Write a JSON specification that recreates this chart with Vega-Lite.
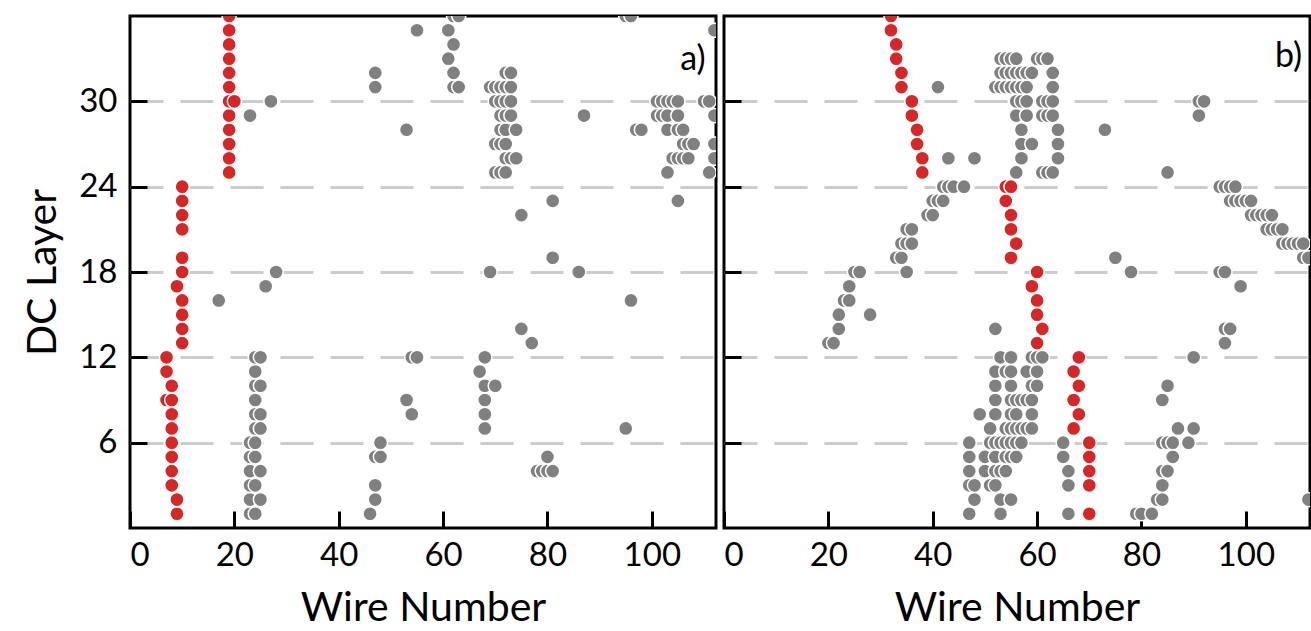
{
  "$schema": "https://vega.github.io/schema/vega-lite/v6.json",
  "background": "white",
  "padding": {"left": 21, "top": 14, "right": 0, "bottom": 0},
  "spacing": 3,
  "config": {
    "font": "Lato",
    "view": {"stroke": "black", "strokeWidth": 3},
    "axis": {
      "domain": false,
      "tickColor": "black",
      "tickWidth": 3,
      "tickSize": -17,
      "labelFont": "Lato",
      "labelFontSize": 33,
      "labelColor": "black",
      "titleFont": "Lato",
      "titleFontSize": 41,
      "titleFontWeight": "normal",
      "titleColor": "black",
      "gridColor": "#cccccc",
      "gridWidth": 3,
      "gridDash": [33, 17]
    }
  },
  "datasets": {
    "hits": [
      {"p":"a","l":1,"w":23,"t":"other"},{"p":"a","l":1,"w":24,"t":"other"},{"p":"a","l":1,"w":46,"t":"other"},
      {"p":"a","l":2,"w":23,"t":"other"},{"p":"a","l":2,"w":25,"t":"other"},{"p":"a","l":2,"w":47,"t":"other"},
      {"p":"a","l":3,"w":23,"t":"other"},{"p":"a","l":3,"w":24,"t":"other"},{"p":"a","l":3,"w":47,"t":"other"},
      {"p":"a","l":4,"w":23,"t":"other"},{"p":"a","l":4,"w":25,"t":"other"},{"p":"a","l":4,"w":78,"t":"other"},{"p":"a","l":4,"w":79,"t":"other"},{"p":"a","l":4,"w":80,"t":"other"},{"p":"a","l":4,"w":81,"t":"other"},
      {"p":"a","l":5,"w":23,"t":"other"},{"p":"a","l":5,"w":24,"t":"other"},{"p":"a","l":5,"w":47,"t":"other"},{"p":"a","l":5,"w":48,"t":"other"},{"p":"a","l":5,"w":80,"t":"other"},
      {"p":"a","l":6,"w":23,"t":"other"},{"p":"a","l":6,"w":24,"t":"other"},{"p":"a","l":6,"w":48,"t":"other"},
      {"p":"a","l":7,"w":24,"t":"other"},{"p":"a","l":7,"w":25,"t":"other"},{"p":"a","l":7,"w":68,"t":"other"},{"p":"a","l":7,"w":95,"t":"other"},
      {"p":"a","l":8,"w":24,"t":"other"},{"p":"a","l":8,"w":25,"t":"other"},{"p":"a","l":8,"w":54,"t":"other"},{"p":"a","l":8,"w":68,"t":"other"},
      {"p":"a","l":9,"w":24,"t":"other"},{"p":"a","l":9,"w":53,"t":"other"},{"p":"a","l":9,"w":68,"t":"other"},
      {"p":"a","l":10,"w":24,"t":"other"},{"p":"a","l":10,"w":25,"t":"other"},{"p":"a","l":10,"w":68,"t":"other"},{"p":"a","l":10,"w":70,"t":"other"},
      {"p":"a","l":11,"w":24,"t":"other"},{"p":"a","l":11,"w":67,"t":"other"},
      {"p":"a","l":12,"w":24,"t":"other"},{"p":"a","l":12,"w":25,"t":"other"},{"p":"a","l":12,"w":54,"t":"other"},{"p":"a","l":12,"w":55,"t":"other"},{"p":"a","l":12,"w":68,"t":"other"},
      {"p":"a","l":13,"w":77,"t":"other"},
      {"p":"a","l":14,"w":75,"t":"other"},
      {"p":"a","l":16,"w":17,"t":"other"},{"p":"a","l":16,"w":96,"t":"other"},
      {"p":"a","l":17,"w":26,"t":"other"},
      {"p":"a","l":18,"w":28,"t":"other"},{"p":"a","l":18,"w":69,"t":"other"},{"p":"a","l":18,"w":86,"t":"other"},
      {"p":"a","l":19,"w":81,"t":"other"},
      {"p":"a","l":22,"w":75,"t":"other"},
      {"p":"a","l":23,"w":81,"t":"other"},{"p":"a","l":23,"w":105,"t":"other"},
      {"p":"a","l":25,"w":70,"t":"other"},{"p":"a","l":25,"w":71,"t":"other"},{"p":"a","l":25,"w":72,"t":"other"},{"p":"a","l":25,"w":103,"t":"other"},{"p":"a","l":25,"w":111,"t":"other"},
      {"p":"a","l":26,"w":72,"t":"other"},{"p":"a","l":26,"w":73,"t":"other"},{"p":"a","l":26,"w":74,"t":"other"},{"p":"a","l":26,"w":104,"t":"other"},{"p":"a","l":26,"w":105,"t":"other"},{"p":"a","l":26,"w":106,"t":"other"},{"p":"a","l":26,"w":107,"t":"other"},{"p":"a","l":26,"w":112,"t":"other"},
      {"p":"a","l":27,"w":70,"t":"other"},{"p":"a","l":27,"w":71,"t":"other"},{"p":"a","l":27,"w":72,"t":"other"},{"p":"a","l":27,"w":106,"t":"other"},{"p":"a","l":27,"w":107,"t":"other"},{"p":"a","l":27,"w":108,"t":"other"},{"p":"a","l":27,"w":112,"t":"other"},
      {"p":"a","l":28,"w":53,"t":"other"},{"p":"a","l":28,"w":71,"t":"other"},{"p":"a","l":28,"w":72,"t":"other"},{"p":"a","l":28,"w":74,"t":"other"},{"p":"a","l":28,"w":97,"t":"other"},{"p":"a","l":28,"w":98,"t":"other"},{"p":"a","l":28,"w":103,"t":"other"},{"p":"a","l":28,"w":105,"t":"other"},{"p":"a","l":28,"w":106,"t":"other"},
      {"p":"a","l":29,"w":23,"t":"other"},{"p":"a","l":29,"w":71,"t":"other"},{"p":"a","l":29,"w":72,"t":"other"},{"p":"a","l":29,"w":73,"t":"other"},{"p":"a","l":29,"w":87,"t":"other"},{"p":"a","l":29,"w":101,"t":"other"},{"p":"a","l":29,"w":102,"t":"other"},{"p":"a","l":29,"w":103,"t":"other"},{"p":"a","l":29,"w":105,"t":"other"},{"p":"a","l":29,"w":112,"t":"other"},
      {"p":"a","l":30,"w":27,"t":"other"},{"p":"a","l":30,"w":70,"t":"other"},{"p":"a","l":30,"w":71,"t":"other"},{"p":"a","l":30,"w":72,"t":"other"},{"p":"a","l":30,"w":73,"t":"other"},{"p":"a","l":30,"w":101,"t":"other"},{"p":"a","l":30,"w":102,"t":"other"},{"p":"a","l":30,"w":103,"t":"other"},{"p":"a","l":30,"w":104,"t":"other"},{"p":"a","l":30,"w":105,"t":"other"},{"p":"a","l":30,"w":110,"t":"other"},{"p":"a","l":30,"w":111,"t":"other"},
      {"p":"a","l":31,"w":47,"t":"other"},{"p":"a","l":31,"w":62,"t":"other"},{"p":"a","l":31,"w":63,"t":"other"},{"p":"a","l":31,"w":69,"t":"other"},{"p":"a","l":31,"w":70,"t":"other"},{"p":"a","l":31,"w":71,"t":"other"},{"p":"a","l":31,"w":72,"t":"other"},{"p":"a","l":31,"w":73,"t":"other"},
      {"p":"a","l":32,"w":47,"t":"other"},{"p":"a","l":32,"w":62,"t":"other"},{"p":"a","l":32,"w":72,"t":"other"},{"p":"a","l":32,"w":73,"t":"other"},
      {"p":"a","l":33,"w":61,"t":"other"},
      {"p":"a","l":34,"w":62,"t":"other"},
      {"p":"a","l":35,"w":55,"t":"other"},{"p":"a","l":35,"w":61,"t":"other"},{"p":"a","l":35,"w":112,"t":"other"},
      {"p":"a","l":36,"w":62,"t":"other"},{"p":"a","l":36,"w":63,"t":"other"},{"p":"a","l":36,"w":95,"t":"other"},{"p":"a","l":36,"w":96,"t":"other"},

      {"p":"a","l":1,"w":9,"t":"track"},{"p":"a","l":2,"w":9,"t":"track"},{"p":"a","l":3,"w":8,"t":"track"},{"p":"a","l":4,"w":8,"t":"track"},
      {"p":"a","l":5,"w":8,"t":"track"},{"p":"a","l":6,"w":8,"t":"track"},{"p":"a","l":7,"w":8,"t":"track"},{"p":"a","l":8,"w":8,"t":"track"},
      {"p":"a","l":9,"w":7,"t":"track"},{"p":"a","l":9,"w":8,"t":"track"},{"p":"a","l":10,"w":8,"t":"track"},{"p":"a","l":11,"w":7,"t":"track"},
      {"p":"a","l":12,"w":7,"t":"track"},{"p":"a","l":13,"w":10,"t":"track"},{"p":"a","l":14,"w":10,"t":"track"},{"p":"a","l":15,"w":10,"t":"track"},
      {"p":"a","l":16,"w":10,"t":"track"},{"p":"a","l":17,"w":9,"t":"track"},{"p":"a","l":18,"w":10,"t":"track"},{"p":"a","l":19,"w":10,"t":"track"},
      {"p":"a","l":21,"w":10,"t":"track"},{"p":"a","l":22,"w":10,"t":"track"},{"p":"a","l":23,"w":10,"t":"track"},{"p":"a","l":24,"w":10,"t":"track"},
      {"p":"a","l":25,"w":19,"t":"track"},{"p":"a","l":26,"w":19,"t":"track"},{"p":"a","l":27,"w":19,"t":"track"},{"p":"a","l":28,"w":19,"t":"track"},
      {"p":"a","l":29,"w":19,"t":"track"},{"p":"a","l":30,"w":19,"t":"track"},{"p":"a","l":30,"w":20,"t":"track"},{"p":"a","l":31,"w":19,"t":"track"},
      {"p":"a","l":32,"w":19,"t":"track"},{"p":"a","l":33,"w":19,"t":"track"},{"p":"a","l":34,"w":19,"t":"track"},{"p":"a","l":35,"w":19,"t":"track"},
      {"p":"a","l":36,"w":19,"t":"track"},

      {"p":"b","l":1,"w":47,"t":"other"},{"p":"b","l":1,"w":53,"t":"other"},{"p":"b","l":1,"w":66,"t":"other"},{"p":"b","l":1,"w":79,"t":"other"},{"p":"b","l":1,"w":80,"t":"other"},{"p":"b","l":1,"w":82,"t":"other"},
      {"p":"b","l":2,"w":48,"t":"other"},{"p":"b","l":2,"w":53,"t":"other"},{"p":"b","l":2,"w":55,"t":"other"},{"p":"b","l":2,"w":83,"t":"other"},{"p":"b","l":2,"w":84,"t":"other"},{"p":"b","l":2,"w":112,"t":"other"},
      {"p":"b","l":3,"w":47,"t":"other"},{"p":"b","l":3,"w":48,"t":"other"},{"p":"b","l":3,"w":51,"t":"other"},{"p":"b","l":3,"w":52,"t":"other"},{"p":"b","l":3,"w":66,"t":"other"},{"p":"b","l":3,"w":84,"t":"other"},
      {"p":"b","l":4,"w":47,"t":"other"},{"p":"b","l":4,"w":50,"t":"other"},{"p":"b","l":4,"w":52,"t":"other"},{"p":"b","l":4,"w":53,"t":"other"},{"p":"b","l":4,"w":54,"t":"other"},{"p":"b","l":4,"w":66,"t":"other"},{"p":"b","l":4,"w":84,"t":"other"},{"p":"b","l":4,"w":85,"t":"other"},
      {"p":"b","l":5,"w":47,"t":"other"},{"p":"b","l":5,"w":50,"t":"other"},{"p":"b","l":5,"w":52,"t":"other"},{"p":"b","l":5,"w":54,"t":"other"},{"p":"b","l":5,"w":55,"t":"other"},{"p":"b","l":5,"w":56,"t":"other"},{"p":"b","l":5,"w":65,"t":"other"},{"p":"b","l":5,"w":86,"t":"other"},
      {"p":"b","l":6,"w":47,"t":"other"},{"p":"b","l":6,"w":51,"t":"other"},{"p":"b","l":6,"w":52,"t":"other"},{"p":"b","l":6,"w":53,"t":"other"},{"p":"b","l":6,"w":54,"t":"other"},{"p":"b","l":6,"w":55,"t":"other"},{"p":"b","l":6,"w":56,"t":"other"},{"p":"b","l":6,"w":57,"t":"other"},{"p":"b","l":6,"w":65,"t":"other"},{"p":"b","l":6,"w":84,"t":"other"},{"p":"b","l":6,"w":85,"t":"other"},{"p":"b","l":6,"w":86,"t":"other"},{"p":"b","l":6,"w":89,"t":"other"},
      {"p":"b","l":7,"w":51,"t":"other"},{"p":"b","l":7,"w":54,"t":"other"},{"p":"b","l":7,"w":55,"t":"other"},{"p":"b","l":7,"w":56,"t":"other"},{"p":"b","l":7,"w":57,"t":"other"},{"p":"b","l":7,"w":58,"t":"other"},{"p":"b","l":7,"w":59,"t":"other"},{"p":"b","l":7,"w":87,"t":"other"},{"p":"b","l":7,"w":90,"t":"other"},
      {"p":"b","l":8,"w":49,"t":"other"},{"p":"b","l":8,"w":52,"t":"other"},{"p":"b","l":8,"w":55,"t":"other"},{"p":"b","l":8,"w":56,"t":"other"},{"p":"b","l":8,"w":59,"t":"other"},
      {"p":"b","l":9,"w":52,"t":"other"},{"p":"b","l":9,"w":55,"t":"other"},{"p":"b","l":9,"w":56,"t":"other"},{"p":"b","l":9,"w":57,"t":"other"},{"p":"b","l":9,"w":58,"t":"other"},{"p":"b","l":9,"w":59,"t":"other"},{"p":"b","l":9,"w":84,"t":"other"},
      {"p":"b","l":10,"w":52,"t":"other"},{"p":"b","l":10,"w":55,"t":"other"},{"p":"b","l":10,"w":59,"t":"other"},{"p":"b","l":10,"w":60,"t":"other"},{"p":"b","l":10,"w":85,"t":"other"},
      {"p":"b","l":11,"w":52,"t":"other"},{"p":"b","l":11,"w":54,"t":"other"},{"p":"b","l":11,"w":55,"t":"other"},{"p":"b","l":11,"w":58,"t":"other"},{"p":"b","l":11,"w":60,"t":"other"},
      {"p":"b","l":12,"w":53,"t":"other"},{"p":"b","l":12,"w":55,"t":"other"},{"p":"b","l":12,"w":59,"t":"other"},{"p":"b","l":12,"w":60,"t":"other"},{"p":"b","l":12,"w":61,"t":"other"},{"p":"b","l":12,"w":90,"t":"other"},
      {"p":"b","l":13,"w":20,"t":"other"},{"p":"b","l":13,"w":21,"t":"other"},{"p":"b","l":13,"w":96,"t":"other"},
      {"p":"b","l":14,"w":22,"t":"other"},{"p":"b","l":14,"w":52,"t":"other"},{"p":"b","l":14,"w":96,"t":"other"},{"p":"b","l":14,"w":97,"t":"other"},
      {"p":"b","l":15,"w":22,"t":"other"},{"p":"b","l":15,"w":28,"t":"other"},
      {"p":"b","l":16,"w":23,"t":"other"},{"p":"b","l":16,"w":24,"t":"other"},
      {"p":"b","l":17,"w":24,"t":"other"},{"p":"b","l":17,"w":99,"t":"other"},
      {"p":"b","l":18,"w":25,"t":"other"},{"p":"b","l":18,"w":26,"t":"other"},{"p":"b","l":18,"w":35,"t":"other"},{"p":"b","l":18,"w":78,"t":"other"},{"p":"b","l":18,"w":95,"t":"other"},{"p":"b","l":18,"w":96,"t":"other"},
      {"p":"b","l":19,"w":33,"t":"other"},{"p":"b","l":19,"w":34,"t":"other"},{"p":"b","l":19,"w":75,"t":"other"},{"p":"b","l":19,"w":111,"t":"other"},{"p":"b","l":19,"w":112,"t":"other"},
      {"p":"b","l":20,"w":34,"t":"other"},{"p":"b","l":20,"w":35,"t":"other"},{"p":"b","l":20,"w":36,"t":"other"},{"p":"b","l":20,"w":107,"t":"other"},{"p":"b","l":20,"w":108,"t":"other"},{"p":"b","l":20,"w":109,"t":"other"},{"p":"b","l":20,"w":110,"t":"other"},{"p":"b","l":20,"w":111,"t":"other"},
      {"p":"b","l":21,"w":35,"t":"other"},{"p":"b","l":21,"w":36,"t":"other"},{"p":"b","l":21,"w":104,"t":"other"},{"p":"b","l":21,"w":105,"t":"other"},{"p":"b","l":21,"w":106,"t":"other"},{"p":"b","l":21,"w":107,"t":"other"},
      {"p":"b","l":22,"w":39,"t":"other"},{"p":"b","l":22,"w":40,"t":"other"},{"p":"b","l":22,"w":101,"t":"other"},{"p":"b","l":22,"w":102,"t":"other"},{"p":"b","l":22,"w":103,"t":"other"},{"p":"b","l":22,"w":104,"t":"other"},{"p":"b","l":22,"w":105,"t":"other"},
      {"p":"b","l":23,"w":40,"t":"other"},{"p":"b","l":23,"w":41,"t":"other"},{"p":"b","l":23,"w":42,"t":"other"},{"p":"b","l":23,"w":97,"t":"other"},{"p":"b","l":23,"w":98,"t":"other"},{"p":"b","l":23,"w":99,"t":"other"},{"p":"b","l":23,"w":100,"t":"other"},{"p":"b","l":23,"w":101,"t":"other"},
      {"p":"b","l":24,"w":42,"t":"other"},{"p":"b","l":24,"w":43,"t":"other"},{"p":"b","l":24,"w":44,"t":"other"},{"p":"b","l":24,"w":46,"t":"other"},{"p":"b","l":24,"w":95,"t":"other"},{"p":"b","l":24,"w":96,"t":"other"},{"p":"b","l":24,"w":97,"t":"other"},{"p":"b","l":24,"w":98,"t":"other"},
      {"p":"b","l":25,"w":56,"t":"other"},{"p":"b","l":25,"w":61,"t":"other"},{"p":"b","l":25,"w":62,"t":"other"},{"p":"b","l":25,"w":63,"t":"other"},{"p":"b","l":25,"w":85,"t":"other"},
      {"p":"b","l":26,"w":43,"t":"other"},{"p":"b","l":26,"w":48,"t":"other"},{"p":"b","l":26,"w":57,"t":"other"},{"p":"b","l":26,"w":64,"t":"other"},
      {"p":"b","l":27,"w":57,"t":"other"},{"p":"b","l":27,"w":59,"t":"other"},{"p":"b","l":27,"w":64,"t":"other"},
      {"p":"b","l":28,"w":57,"t":"other"},{"p":"b","l":28,"w":64,"t":"other"},{"p":"b","l":28,"w":73,"t":"other"},
      {"p":"b","l":29,"w":56,"t":"other"},{"p":"b","l":29,"w":58,"t":"other"},{"p":"b","l":29,"w":61,"t":"other"},{"p":"b","l":29,"w":62,"t":"other"},{"p":"b","l":29,"w":63,"t":"other"},{"p":"b","l":29,"w":91,"t":"other"},
      {"p":"b","l":30,"w":56,"t":"other"},{"p":"b","l":30,"w":57,"t":"other"},{"p":"b","l":30,"w":58,"t":"other"},{"p":"b","l":30,"w":61,"t":"other"},{"p":"b","l":30,"w":62,"t":"other"},{"p":"b","l":30,"w":63,"t":"other"},{"p":"b","l":30,"w":91,"t":"other"},{"p":"b","l":30,"w":92,"t":"other"},
      {"p":"b","l":31,"w":41,"t":"other"},{"p":"b","l":31,"w":52,"t":"other"},{"p":"b","l":31,"w":53,"t":"other"},{"p":"b","l":31,"w":54,"t":"other"},{"p":"b","l":31,"w":55,"t":"other"},{"p":"b","l":31,"w":56,"t":"other"},{"p":"b","l":31,"w":57,"t":"other"},{"p":"b","l":31,"w":58,"t":"other"},{"p":"b","l":31,"w":63,"t":"other"},
      {"p":"b","l":32,"w":53,"t":"other"},{"p":"b","l":32,"w":54,"t":"other"},{"p":"b","l":32,"w":55,"t":"other"},{"p":"b","l":32,"w":56,"t":"other"},{"p":"b","l":32,"w":57,"t":"other"},{"p":"b","l":32,"w":58,"t":"other"},{"p":"b","l":32,"w":59,"t":"other"},{"p":"b","l":32,"w":63,"t":"other"},
      {"p":"b","l":33,"w":53,"t":"other"},{"p":"b","l":33,"w":54,"t":"other"},{"p":"b","l":33,"w":55,"t":"other"},{"p":"b","l":33,"w":56,"t":"other"},{"p":"b","l":33,"w":60,"t":"other"},{"p":"b","l":33,"w":61,"t":"other"},{"p":"b","l":33,"w":62,"t":"other"},

      {"p":"b","l":1,"w":70,"t":"track"},{"p":"b","l":3,"w":70,"t":"track"},{"p":"b","l":4,"w":70,"t":"track"},{"p":"b","l":5,"w":70,"t":"track"},
      {"p":"b","l":6,"w":70,"t":"track"},{"p":"b","l":7,"w":67,"t":"track"},{"p":"b","l":8,"w":68,"t":"track"},{"p":"b","l":9,"w":67,"t":"track"},
      {"p":"b","l":10,"w":68,"t":"track"},{"p":"b","l":11,"w":67,"t":"track"},{"p":"b","l":12,"w":68,"t":"track"},{"p":"b","l":13,"w":60,"t":"track"},
      {"p":"b","l":14,"w":61,"t":"track"},{"p":"b","l":15,"w":60,"t":"track"},{"p":"b","l":16,"w":60,"t":"track"},{"p":"b","l":17,"w":59,"t":"track"},
      {"p":"b","l":18,"w":60,"t":"track"},{"p":"b","l":19,"w":55,"t":"track"},{"p":"b","l":20,"w":56,"t":"track"},{"p":"b","l":21,"w":55,"t":"track"},
      {"p":"b","l":22,"w":55,"t":"track"},{"p":"b","l":23,"w":54,"t":"track"},{"p":"b","l":24,"w":54,"t":"track"},{"p":"b","l":24,"w":55,"t":"track"},
      {"p":"b","l":25,"w":38,"t":"track"},{"p":"b","l":26,"w":38,"t":"track"},{"p":"b","l":27,"w":37,"t":"track"},{"p":"b","l":28,"w":37,"t":"track"},
      {"p":"b","l":29,"w":36,"t":"track"},{"p":"b","l":30,"w":36,"t":"track"},{"p":"b","l":31,"w":34,"t":"track"},{"p":"b","l":32,"w":34,"t":"track"},
      {"p":"b","l":33,"w":33,"t":"track"},{"p":"b","l":34,"w":33,"t":"track"},{"p":"b","l":35,"w":32,"t":"track"},{"p":"b","l":36,"w":32,"t":"track"}
    ]
  },
  "hconcat": [
    {
      "width": 586,
      "height": 512,
      "layer": [
        {
          "data": {"name": "hits"},
          "transform": [{"filter": "datum.p == 'a'"}],
          "mark": {"type": "circle", "size": 200, "opacity": 1, "stroke": "white", "strokeWidth": 1.5, "clip": true},
          "encoding": {
            "x": {"field": "w", "type": "quantitative", "scale": {"domain": [0, 112.3], "nice": false},
                  "axis": {"values": [0, 20, 40, 60, 80, 100], "grid": false, "title": "Wire Number", "labelPadding": 28, "titlePadding": 16}},
            "y": {"field": "l", "type": "quantitative", "scale": {"domain": [0, 36], "nice": false},
                  "axis": {"values": [6, 12, 18, 24, 30], "grid": true, "title": "DC Layer", "labelPadding": 30, "titlePadding": 14}},
            "color": {"field": "t", "type": "nominal", "scale": {"domain": ["other", "track"], "range": ["#808080", "#d62728"]}, "legend": null}
          }
        },
        {
          "data": {"values": [{"tag": "a)"}]},
          "mark": {"type": "text", "align": "right", "baseline": "middle", "fontSize": 34, "font": "Lato", "color": "black"},
          "encoding": {
            "text": {"field": "tag"},
            "x": {"datum": 110.3, "type": "quantitative"},
            "y": {"datum": 32.9, "type": "quantitative"}
          }
        }
      ]
    },
    {
      "width": 586,
      "height": 512,
      "layer": [
        {
          "data": {"name": "hits"},
          "transform": [{"filter": "datum.p == 'b'"}],
          "mark": {"type": "circle", "size": 200, "opacity": 1, "stroke": "white", "strokeWidth": 1.5, "clip": true},
          "encoding": {
            "x": {"field": "w", "type": "quantitative", "scale": {"domain": [0, 112.3], "nice": false},
                  "axis": {"values": [0, 20, 40, 60, 80, 100], "grid": false, "title": "Wire Number", "labelPadding": 28, "titlePadding": 16}},
            "y": {"field": "l", "type": "quantitative", "scale": {"domain": [0, 36], "nice": false},
                  "axis": {"values": [6, 12, 18, 24, 30], "grid": true, "title": null, "labels": false}},
            "color": {"field": "t", "type": "nominal", "scale": {"domain": ["other", "track"], "range": ["#808080", "#d62728"]}, "legend": null}
          }
        },
        {
          "data": {"values": [{"tag": "b)"}]},
          "mark": {"type": "text", "align": "right", "baseline": "middle", "fontSize": 34, "font": "Lato", "color": "black"},
          "encoding": {
            "text": {"field": "tag"},
            "x": {"datum": 110.8, "type": "quantitative"},
            "y": {"datum": 33.1, "type": "quantitative"}
          }
        }
      ]
    }
  ]
}
